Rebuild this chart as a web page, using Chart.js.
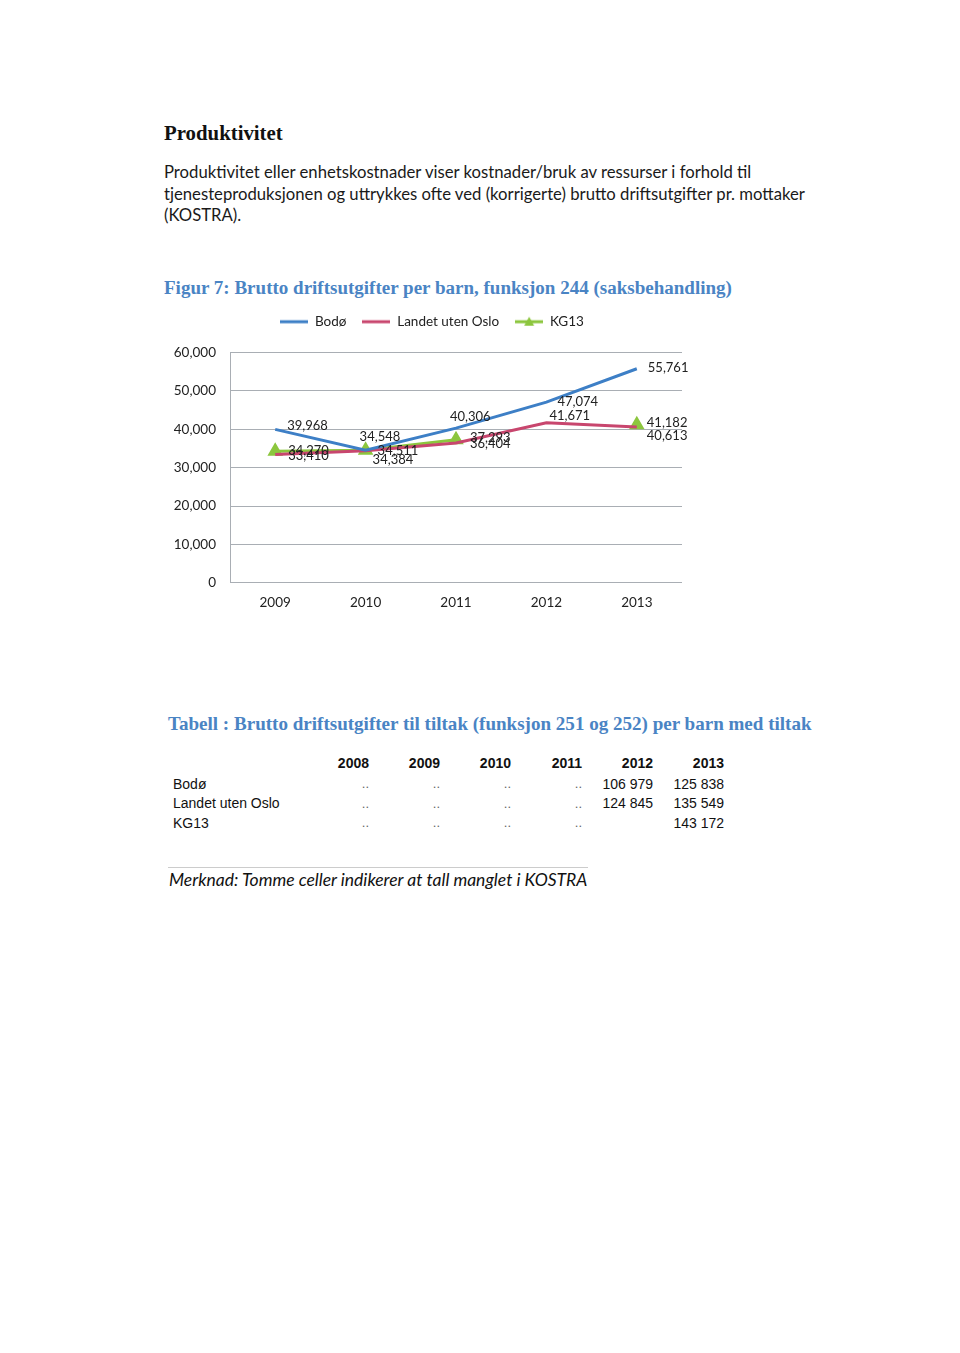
<!DOCTYPE html>
<html>
<head>
<meta charset="utf-8">
<script src="https://cdn.jsdelivr.net/npm/chart.js@4/dist/chart.umd.min.js"></script>
<style>
  body { margin: 0; width: 960px; height: 1353px; background: #fff; position: relative; overflow: hidden; }
  .abs { position: absolute; white-space: nowrap; }
  #heading { left: 164px; top: 121px; font: bold 21px "Liberation Serif", serif; color: #111; }
  #intro { left: 164px; top: 162px; font: 16.7px Lato, sans-serif; line-height: 21.5px; color: #1a1a1a; }
  #figtitle { left: 164px; top: 277px; font: bold 19px "Liberation Serif", serif; color: #4a84c4; }
  #chartbox { left: 160px; top: 299px; width: 540px; height: 324px; }
  #tabtitle { left: 168px; top: 713px; font: bold 19px "Liberation Serif", serif; color: #4a84c4; }
  #tbl { left: 168px; top: 752px; font: 14px "Liberation Sans", Arial, sans-serif; color: #111; border-collapse: collapse; }
  #tbl td { padding: 0; height: 19.5px; text-align: right; }
  #tbl td.lab { text-align: left; width: 125px; padding-left: 5px; }
  #tbl td.c { width: 71px; }
  #tbl th { font-weight: bold; text-align: right; padding: 0; height: 22px; width: 71px; }
  #tbl .dots { color: #666; font-size: 13px; }
  #rule { left: 168px; top: 867px; width: 420px; height: 0; border-top: 1px solid #ccc; }
  #note { left: 169px; top: 869px; font: italic 17.5px Lato, sans-serif; color: #111; }
</style>
</head>
<body>
<div id="heading" class="abs">Produktivitet</div>
<div id="intro" class="abs">Produktivitet eller enhetskostnader viser kostnader/bruk av ressurser i forhold til<br>tjenesteproduksjonen og uttrykkes ofte ved (korrigerte) brutto driftsutgifter pr. mottaker<br>(KOSTRA).</div>
<div id="figtitle" class="abs">Figur 7: Brutto driftsutgifter per barn, funksjon 244 (saksbehandling)</div>
<div id="chartbox" class="abs"><canvas id="line"></canvas></div>
<div id="tabtitle" class="abs">Tabell : Brutto driftsutgifter til tiltak (funksjon 251 og 252) per barn med tiltak</div>
<table id="tbl" class="abs"></table>
<div id="rule" class="abs"></div>
<div id="note" class="abs">Merknad: Tomme celler indikerer at tall manglet i KOSTRA</div>

<script>
// chart data
var years = ["2009", "2010", "2011", "2012", "2013"];
var bodo = [39968, 34548, 40306, 47074, 55761];
var landet = [33410, 34384, 36404, 41671, 40613];
var kg13 = [34270, 34511, 37293, null, 41182];
var yTicks = [0, 10000, 20000, 30000, 40000, 50000, 60000];

// table data
var tableYears = ["2008", "2009", "2010", "2011", "2012", "2013"];
var tableRows = ["Bodø", "Landet uten Oslo", "KG13"];
var tableValues = [
  ["..", "..", "..", "..", "106 979", "125 838"],
  ["..", "..", "..", "..", "124 845", "135 549"],
  ["..", "..", "..", "..", "", "143 172"]
];

// stretch a text block's font size so it spans the given width
function fitWidth(id, width) {
  var el = document.getElementById(id);
  var size = parseFloat(getComputedStyle(el).fontSize);
  el.style.fontSize = (size * width / el.scrollWidth) + "px";
}
fitWidth("heading", 119);
fitWidth("figtitle", 568);
fitWidth("tabtitle", 644);
fitWidth("note", 418);

// build the table
var table = document.getElementById("tbl");
var head = "<tr><td class='lab'></td>";
for (var i = 0; i < tableYears.length; i++) {
  head += "<th>" + tableYears[i] + "</th>";
}
table.innerHTML = head + "</tr>";
for (var r = 0; r < tableRows.length; r++) {
  var row = "<tr><td class='lab'>" + tableRows[r] + "</td>";
  for (var c = 0; c < tableValues[r].length; c++) {
    var v = tableValues[r][c];
    row += "<td class='c" + (v == ".." ? " dots" : "") + "'>" + v + "</td>";
  }
  table.innerHTML += row + "</tr>";
}

function fmt(n) {
  return n.toLocaleString("en-US");
}

// small legend images: line with optional triangle
function legendIcon(color, triangle) {
  var cv = document.createElement("canvas");
  cv.width = 28;
  cv.height = 12;
  var c = cv.getContext("2d");
  c.strokeStyle = color;
  c.lineWidth = 3;
  c.beginPath();
  c.moveTo(0, 6);
  c.lineTo(28, 6);
  c.stroke();
  if (triangle) {
    c.fillStyle = color;
    c.beginPath();
    c.moveTo(14, 1);
    c.lineTo(19, 10);
    c.lineTo(9, 10);
    c.closePath();
    c.fill();
  }
  return cv;
}

// value labels next to each point, offsets per point
var pointLabels = {
  id: "pointLabels",
  afterDatasetsDraw: function (chart) {
    var ctx = chart.ctx;
    ctx.save();
    ctx.font = "13px Lato, sans-serif";
    ctx.fillStyle = "#222";
    ctx.textAlign = "left";
    ctx.textBaseline = "middle";
    chart.data.datasets.forEach(function (ds, di) {
      var meta = chart.getDatasetMeta(di);
      meta.data.forEach(function (pt, i) {
        var v = ds.data[i];
        if (v == null) return;
        var off = ds.labelOffsets[i];
        ctx.fillText(fmt(v), pt.x + off[0], pt.y + off[1]);
      });
    });
    ctx.restore();
  }
};

// extra space under the legend, and nudge it right a little
var legendGap = {
  id: "legendGap",
  beforeInit: function (chart) {
    var fit = chart.legend.fit;
    chart.legend.fit = function () {
      fit.bind(chart.legend)();
      this.height += 14;
    };
  },
  afterLayout: function (chart) {
    chart.legend.left += 11;
    chart.legend.right += 11;
  }
};

var ctx = document.getElementById("line").getContext("2d");
var chart = new Chart(ctx, {
  type: "line",
  data: {
    labels: years,
    datasets: [
      {
        label: "Bodø",
        data: bodo,
        borderColor: "#3d7fc6",
        borderWidth: 3,
        pointRadius: 0,
        pointStyle: legendIcon("#3d7fc6", false),
        labelOffsets: [[12, -4], [-6, -13], [-6, -11], [11, 0], [11, -1]]
      },
      {
        label: "Landet uten Oslo",
        data: landet,
        borderColor: "#c8466e",
        borderWidth: 3,
        pointRadius: 0,
        pointStyle: legendIcon("#c8466e", false),
        labelOffsets: [[13, 1], [7, 9], [14, 1], [3, -7], [10, 9]]
      },
      {
        label: "KG13",
        data: kg13,
        borderColor: "#8cc63e",
        backgroundColor: "#8cc63e",
        borderWidth: 3,
        pointRadius: 6,
        pointStyle: "triangle",
        labelOffsets: [[13, 0], [12, 0], [14, -2], [0, 0], [10, -2]]
      }
    ]
  },
  options: {
    responsive: true,
    maintainAspectRatio: false,
    animation: false,
    spanGaps: false,
    layout: { padding: { top: 0, right: 18, bottom: 0, left: 0 } },
    plugins: {
      tooltip: { enabled: false },
      legend: {
        display: true,
        position: "top",
        labels: {
          usePointStyle: true,
          pointStyleWidth: 28,
          boxHeight: 12,
          padding: 16,
          color: "#222",
          font: { family: "Lato, sans-serif", size: 13.5 },
          generateLabels: function (chart) {
            return chart.data.datasets.map(function (ds, i) {
              return {
                text: ds.label,
                datasetIndex: i,
                pointStyle: i == 2 ? legendIcon("#8cc63e", true) : ds.pointStyle,
                fillStyle: ds.borderColor,
                strokeStyle: ds.borderColor,
                lineWidth: 0,
                fontColor: "#222"
              };
            });
          }
        }
      }
    },
    scales: {
      x: {
        offset: true,
        grid: { display: false, drawTicks: false },
        border: { display: false },
        ticks: { color: "#222", padding: 12, font: { family: "Lato, sans-serif", size: 13.5 } }
      },
      y: {
        min: 0,
        max: 60000,
        afterBuildTicks: function (axis) {
          axis.ticks = yTicks.map(function (t) { return { value: t }; });
        },
        afterFit: function (axis) { axis.width = 70; },
        grid: { color: "#a9aeb4", lineWidth: 1, drawTicks: false },
        border: { display: true, color: "#a9aeb4" },
        ticks: {
          color: "#222",
          padding: 14,
          font: { family: "Lato, sans-serif", size: 13.5 },
          callback: function (v) { return fmt(v); }
        }
      }
    }
  },
  plugins: [pointLabels, legendGap]
});
</script>
</body>
</html>
